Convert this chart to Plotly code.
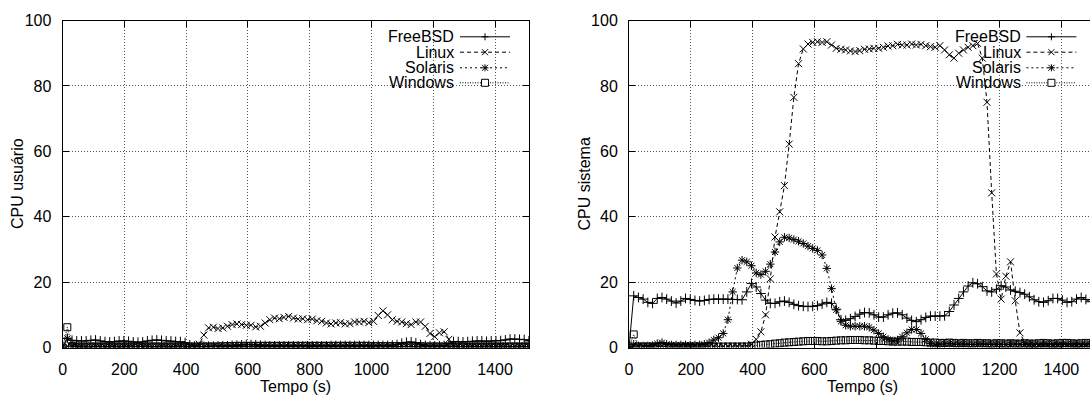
import plotly.graph_objects as go

# ---------------- data ----------------
# sampling instants (s): one sample every ~15.25 s, 100 samples
tempo = [round(15.25 * i, 2) for i in range(100)]

series_names = ["FreeBSD", "Linux", "Solaris", "Windows"]

usr_freebsd = [0, 2.8, 2.2, 2.0, 2.0, 2.0, 2.2, 2.3, 2.0, 1.8,
               1.7, 1.8, 2.0, 2.0, 1.9, 1.7, 1.6, 1.7, 2.0, 2.2,
               2.3, 2.2, 2.0, 2.0, 1.8, 1.8, 1.5, 0.8, 0.4, 0.3,
               0.3, 0.4, 0.4, 0.5, 0.5, 0.5, 0.6, 0.7, 0.8, 0.9,
               0.9, 0.8, 0.7, 0.6, 0.5, 0.5, 0.5, 0.5, 0.5, 0.5,
               0.5, 0.5, 0.5, 0.5, 0.5, 0.5, 0.5, 0.6, 0.6, 0.6,
               0.6, 0.6, 0.6, 0.6, 0.6, 0.6, 0.6, 0.6, 0.6, 0.6,
               0.7, 0.9, 1.3, 1.6, 1.7, 1.4, 0.9, 0.6, 0.5, 0.5,
               0.5, 0.6, 1.2, 1.8, 1.8, 1.7, 1.8, 1.9, 2.0, 2.0,
               1.9, 2.0, 2.0, 2.1, 2.3, 2.6, 2.6, 2.5, 2.4, 2.0]
usr_linux = [0, 0.4, 0.2, 0.2, 0.2, 0.2, 0.2, 0.2, 0.2, 0.2,
             0.2, 0.2, 0.2, 0.2, 0.2, 0.2, 0.2, 0.2, 0.2, 0.2,
             0.2, 0.2, 0.2, 0.2, 0.2, 0.2, 0.2, 0.2, 0.3, 1.0,
             3.8, 6.0, 6.2, 5.8, 6.0, 6.5, 7.0, 7.2, 7.0, 6.8,
             6.8, 6.3, 6.5, 7.5, 8.5, 9.0, 8.8, 9.2, 9.5, 9.0,
             8.7, 8.8, 8.5, 8.7, 8.2, 8.0, 7.5, 7.2, 7.5, 7.6,
             7.2, 7.3, 7.8, 7.8, 8.0, 7.6, 8.0, 9.8, 11.2, 10.0,
             8.5, 8.0, 7.8, 7.3, 7.0, 7.8, 7.8, 6.5, 4.3, 3.3,
             4.5, 4.8, 2.5, 1.0, 0.4, 0.3, 0.3, 0.3, 0.3, 0.3,
             0.3, 0.3, 0.3, 0.3, 0.3, 0.3, 0.3, 0.3, 0.3, 0.3]
usr_solaris = [0, 2.8, 0.5, 0.2, 0.2, 0.1, 0.2, 0.3, 0.2, 0.2,
               0.2, 0.2, 0.1, 0.2, 0.2, 0.2, 0.3, 0.2, 0.2, 0.2,
               0.2, 0.2, 0.2, 0.1, 0.2, 0.2, 0.2, 0.2, 0.2, 0.2,
               0.2, 0.2, 0.3, 0.2, 0.2, 0.2, 0.2, 0.2, 0.3, 0.3,
               0.3, 0.2, 0.2, 0.2, 0.2, 0.2, 0.2, 0.2, 0.2, 0.2,
               0.2, 0.2, 0.2, 0.2, 0.2, 0.2, 0.2, 0.2, 0.2, 0.2,
               0.2, 0.2, 0.2, 0.2, 0.2, 0.2, 0.2, 0.2, 0.2, 0.2,
               0.2, 0.2, 0.3, 0.3, 0.3, 0.2, 0.2, 0.2, 0.2, 0.2,
               0.2, 0.2, 0.2, 0.2, 0.2, 0.2, 0.2, 0.2, 0.2, 0.2,
               0.2, 0.2, 0.2, 0.2, 0.2, 0.2, 0.2, 0.2, 0.2, 0.2]
usr_windows = [0, 6.2, 0.4, 0.3, 0.3, 0.3, 0.3, 0.3, 0.3, 0.3,
               0.3, 0.3, 0.3, 0.3, 0.3, 0.3, 0.3, 0.3, 0.3, 0.3,
               0.3, 0.3, 0.3, 0.3, 0.3, 0.3, 0.3, 0.3, 0.3, 0.3,
               0.3, 0.3, 0.3, 0.3, 0.4, 0.4, 0.4, 0.5, 0.5, 0.5,
               0.5, 0.5, 0.5, 0.5, 0.5, 0.5, 0.5, 0.5, 0.5, 0.5,
               0.5, 0.5, 0.5, 0.5, 0.5, 0.5, 0.5, 0.5, 0.5, 0.5,
               0.5, 0.5, 0.5, 0.5, 0.5, 0.5, 0.4, 0.4, 0.4, 0.4,
               0.4, 0.4, 0.4, 0.4, 0.4, 0.4, 0.4, 0.3, 0.3, 0.3,
               0.3, 0.3, 0.3, 0.3, 0.3, 0.3, 0.3, 0.3, 0.3, 0.3,
               0.3, 0.3, 0.3, 0.3, 0.3, 0.3, 0.3, 0.3, 0.3, 0.3]

sys_freebsd = [0, 15.8, 15.3, 14.8, 13.8, 13.5, 15.0, 15.3, 14.8, 14.2,
               13.6, 14.2, 15.0, 14.7, 14.4, 14.2, 14.4, 14.7, 14.8, 14.8,
               14.8, 14.8, 14.7, 14.7, 14.6, 17.0, 19.6, 18.5, 16.5, 14.5,
               13.5, 13.5, 14.0, 14.2, 13.8, 13.2, 12.8, 12.6, 12.5, 12.6,
               12.8, 13.3, 13.8, 13.5, 11.7, 8.5, 8.3, 8.8, 9.5, 10.2,
               10.7, 10.6, 10.0, 9.3, 9.3, 10.0, 10.5, 10.6, 10.0, 9.0,
               8.3, 7.9, 8.5, 9.2, 9.6, 9.6, 9.6, 9.7, 11.0, 13.0,
               15.0, 17.0, 18.8, 19.8, 19.5, 18.6, 17.3, 17.0, 17.8, 18.9,
               18.5, 17.6, 17.2, 16.8, 16.3, 15.5, 14.6, 14.0, 13.8, 14.3,
               15.0, 15.0, 14.5, 13.8, 14.0, 14.8, 15.3, 14.7, 14.0, 14.3]
sys_linux = [0, 0.5, 0.3, 0.3, 0.3, 0.3, 0.4, 0.4, 0.3, 0.3,
             0.3, 0.3, 0.3, 0.3, 0.3, 0.3, 0.3, 0.3, 0.3, 0.3,
             0.3, 0.3, 0.3, 0.3, 0.3, 0.5, 1.0, 2.5, 4.8, 10.0,
             21.0, 33.8, 41.5, 49.5, 62.2, 76.5, 86.8, 91.3, 92.8, 93.3,
             93.5, 93.3, 93.5, 92.5, 91.5, 91.2, 91.0, 90.7, 90.5, 90.8,
             91.2, 91.3, 91.5, 91.5, 91.8, 92.2, 92.3, 92.7, 92.5, 92.5,
             92.8, 92.5, 92.7, 92.3, 92.0, 91.8, 92.3, 91.0, 89.5, 88.5,
             90.0, 91.0, 91.8, 92.3, 93.0, 88.5, 75.0, 47.3, 22.5, 14.8,
             21.8, 26.2, 14.3, 4.5, 1.5, 0.8, 0.5, 0.5, 0.4, 0.4,
             0.4, 0.4, 0.4, 0.4, 0.4, 0.4, 0.4, 0.4, 0.4, 0.4]
sys_solaris = [0, 1.0, 0.5, 0.5, 0.5, 0.6, 1.2, 1.5, 1.0, 0.8,
               0.8, 0.8, 0.8, 0.8, 0.8, 0.8, 1.0, 1.5, 2.3, 3.0,
               4.3, 8.5, 17.0, 24.3, 26.7, 26.2, 25.0, 22.8, 22.3, 23.3,
               25.5, 29.2, 32.3, 33.7, 33.5, 33.0, 32.5, 31.8, 31.0, 30.3,
               29.7, 28.3, 24.2, 18.0, 11.5, 8.0, 6.8, 6.5, 6.5, 6.5,
               6.5, 6.2, 5.3, 4.3, 3.3, 2.5, 2.0, 2.3, 3.3, 4.5,
               5.5, 5.5, 4.3, 2.5, 1.2, 0.8, 1.0, 1.1, 1.2, 1.0,
               1.0, 1.1, 1.0, 0.9, 1.0, 1.1, 1.0, 0.9, 1.0, 1.0,
               0.9, 1.0, 1.1, 1.0, 0.9, 1.0, 1.0, 0.9, 1.0, 1.1,
               1.0, 0.9, 1.0, 1.0, 1.1, 1.0, 0.9, 1.0, 1.0, 1.0]
sys_windows = [0, 4.0, 0.3, 0.3, 0.3, 0.3, 0.3, 0.3, 0.3, 0.3,
               0.3, 0.3, 0.3, 0.3, 0.3, 0.3, 0.3, 0.3, 0.3, 0.3,
               0.3, 0.3, 0.3, 0.3, 0.3, 0.3, 0.5, 0.6, 0.8, 0.9,
               1.0, 1.2, 1.3, 1.5, 1.6, 1.7, 1.8, 1.9, 2.0, 2.0,
               2.0, 1.9, 1.9, 2.0, 2.1, 2.2, 2.2, 2.3, 2.3, 2.3,
               2.2, 2.2, 2.1, 2.0, 2.0, 1.9, 1.8, 1.8, 1.8, 1.8,
               1.7, 1.7, 1.7, 1.6, 1.5, 1.5, 1.4, 1.4, 1.5, 1.4,
               1.3, 1.4, 1.3, 1.3, 1.4, 1.3, 1.3, 1.2, 1.3, 1.3,
               1.2, 1.3, 1.2, 1.2, 1.3, 1.2, 1.2, 1.3, 1.4, 1.3,
               1.2, 1.3, 1.4, 1.4, 1.3, 1.2, 1.3, 1.4, 1.3, 1.3]

x_ticks = [0, 200, 400, 600, 800, 1000, 1200, 1400]
y_ticks = [0, 20, 40, 60, 80, 100]
x_title = "Tempo (s)"
y_titles = ["CPU usuário", "CPU sistema"]
XMAX = 1510

# ---------------- layout geometry (pixels) ----------------
W, H = 1090, 396
PLOT_TOP, PLOT_BOTTOM = 20.5, 347.5
LEFT_X0, LEFT_X1 = 62.6, 529.0
RIGHT_X0 = 629.0
FULL_W = LEFT_X1 - LEFT_X0
FONT = "Liberation Sans"
FS = 16

def px(xp):
    return xp / W

def py(yp):
    return 1 - yp / H

styles = {
    "FreeBSD": dict(dash="solid", symbol="cross-thin"),
    "Linux": dict(dash="4px,3px", symbol="x-thin"),
    "Solaris": dict(dash="2px,3px", symbol="asterisk"),
    "Windows": dict(dash="1px,1.5px", symbol="square-open"),
}

fig = go.Figure()

usr = [usr_freebsd, usr_linux, usr_solaris, usr_windows]
sysv = [sys_freebsd, sys_linux, sys_solaris, sys_windows]

for axis_idx, data in ((1, usr), (2, sysv)):
    for name, vals in zip(series_names, data):
        st = styles[name]
        fig.add_trace(go.Scatter(
            x=tempo, y=vals, name=name, mode="lines+markers",
            xaxis="x" if axis_idx == 1 else "x2",
            yaxis="y" if axis_idx == 1 else "y2",
            line=dict(color="black", width=1, dash=st["dash"]),
            marker=dict(symbol=st["symbol"], size=7, color="black",
                        line=dict(color="black", width=1)),
            showlegend=False, cliponaxis=True,
        ))

ydom = [py(PLOT_BOTTOM), py(PLOT_TOP)]
common_x = dict(
    tickvals=x_ticks, ticks="inside", ticklen=6, tickwidth=1, tickcolor="black",
    showline=True, linecolor="black", linewidth=1, mirror="ticks",
    showgrid=True, gridcolor="#555", gridwidth=1, griddash="1px,2px",
    zeroline=False, tickfont=dict(family=FONT, size=FS, color="black"),
    ticklabelstandoff=7,
)
common_y = dict(
    tickvals=y_ticks, ticks="inside", ticklen=6, tickwidth=1, tickcolor="black",
    showline=True, linecolor="black", linewidth=1,
    showgrid=True, gridcolor="#555", gridwidth=1, griddash="1px,2px",
    zeroline=False, tickfont=dict(family=FONT, size=FS, color="black"),
    range=[0, 100], domain=ydom, ticklabelstandoff=7,
)

right_xmax = XMAX * (W - RIGHT_X0) / FULL_W

fig.update_layout(
    width=W, height=H, margin=dict(l=0, r=0, t=0, b=0),
    paper_bgcolor="white", plot_bgcolor="white", template="none",
    xaxis=dict(common_x, domain=[px(LEFT_X0), px(LEFT_X1)], range=[0, XMAX], anchor="y"),
    yaxis=dict(common_y, mirror="ticks", anchor="x"),
    xaxis2=dict(common_x, domain=[px(RIGHT_X0), 1.0], range=[0, right_xmax], anchor="y2"),
    yaxis2=dict(common_y, mirror=False, anchor="x2"),
    showlegend=False,
)

# ---------------- axis titles ----------------
annotations = []
shapes = []
for x0, ytitle in ((LEFT_X0, y_titles[0]), (RIGHT_X0, y_titles[1])):
    annotations.append(dict(
        text=ytitle, x=px(x0 - 45.5), y=py((PLOT_TOP + PLOT_BOTTOM) / 2),
        xref="paper", yref="paper", showarrow=False, textangle=-90,
        xanchor="center", yanchor="middle",
        font=dict(family=FONT, size=FS, color="black")))
    annotations.append(dict(
        text=x_title, x=px(x0 + FULL_W / 2), y=py(386),
        xref="paper", yref="paper", showarrow=False,
        xanchor="center", yanchor="middle",
        font=dict(family=FONT, size=FS, color="black")))

# ---------------- custom key (text left, sample right) ----------------
KEY_TEXT_RIGHT = 393.5
KEY_SAMPLE = (397.4, 447.4)
KEY_ROWS = [36.8, 52.2, 67.8, 82.8]
KEY_BOX = (322.5, 455.0, PLOT_TOP + 0.5, 90.0)
G = 3.5

for x0 in (LEFT_X0, RIGHT_X0):
    shapes.append(dict(type="rect", xref="paper", yref="paper", layer="between",
                       x0=px(x0 + KEY_BOX[0]), x1=px(x0 + KEY_BOX[1]),
                       y0=py(KEY_BOX[3]), y1=py(KEY_BOX[2]),
                       fillcolor="white", line=dict(width=0)))
    for name, cy in zip(series_names, KEY_ROWS):
        st = styles[name]
        annotations.append(dict(
            text=name, x=px(x0 + KEY_TEXT_RIGHT), y=py(cy),
            xref="paper", yref="paper", showarrow=False,
            xanchor="right", yanchor="middle",
            font=dict(family=FONT, size=FS, color="black")))
        shapes.append(dict(type="line", xref="paper", yref="paper",
                           x0=px(x0 + KEY_SAMPLE[0]), x1=px(x0 + KEY_SAMPLE[1]),
                           y0=py(cy), y1=py(cy),
                           line=dict(color="black", width=1, dash=st["dash"])))
        cx = x0 + (KEY_SAMPLE[0] + KEY_SAMPLE[1]) / 2
        segs = []
        if st["symbol"] in ("cross-thin", "asterisk"):
            segs += [((cx - G, cy), (cx + G, cy)), ((cx, cy - G), (cx, cy + G))]
        if st["symbol"] in ("x-thin", "asterisk"):
            d = 3.0
            segs += [((cx - d, cy - d), (cx + d, cy + d)), ((cx - d, cy + d), (cx + d, cy - d))]
        for (a, b) in segs:
            shapes.append(dict(type="line", xref="paper", yref="paper",
                               x0=px(a[0]), y0=py(a[1]), x1=px(b[0]), y1=py(b[1]),
                               line=dict(color="black", width=1)))
        if st["symbol"] == "square-open":
            shapes.append(dict(type="rect", xref="paper", yref="paper",
                               x0=px(cx - G), x1=px(cx + G), y0=py(cy + G), y1=py(cy - G),
                               fillcolor="white", line=dict(color="black", width=1)))

fig.update_layout(annotations=annotations, shapes=shapes)
fig.write_html("out.html")
